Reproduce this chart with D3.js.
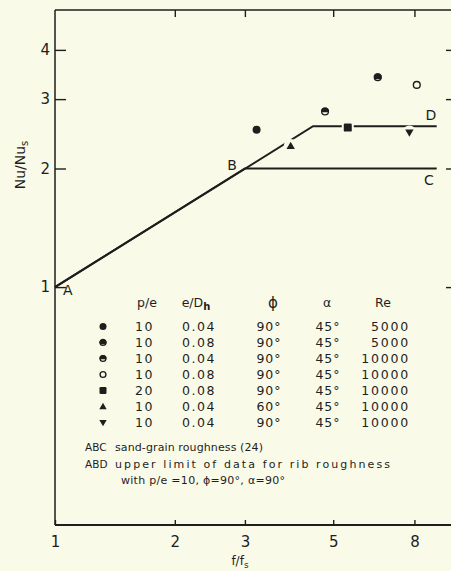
<!DOCTYPE html>
<html>
<head>
<meta charset="utf-8">
<script src="https://cdn.jsdelivr.net/npm/d3@7"></script>
<style>
  html, body { margin: 0; padding: 0; background: #fafae8; }
  svg { display: block; }
  text { font-family: "DejaVu Sans", sans-serif; fill: #1e1e1e; }
</style>
</head>
<body>
<svg id="chart" width="451" height="571"></svg>
<script>
// ---------- data ----------
const markerTypes = ["filled", "halfA", "halfB", "open", "square", "triUp", "triDown"];
const pe    = ["10", "10", "10", "10", "20", "10", "10"];
const eDh   = ["0.04", "0.08", "0.04", "0.08", "0.08", "0.04", "0.04"];
const phi   = ["90°", "90°", "90°", "90°", "90°", "60°", "90°"];
const alpha = ["45°", "45°", "45°", "45°", "45°", "45°", "45°"];
const Re    = ["5000", "5000", "10000", "10000", "10000", "10000", "10000"];
// one measured point per series (f/fs, Nu/Nus)
const ptF   = [3.21, 6.47, 4.77, 8.11, 5.44, 3.91, 7.77];
const ptNu  = [2.51, 3.41, 2.79, 3.26, 2.54, 2.28, 2.47];
// reference lines
const abcF  = [1, 3, 9.1];
const abcNu = [1, 2, 2];
const abdF  = [1, 4.45, 9.1];
const abdNu = [1, 2.56, 2.56];
const xTicks = [1, 2, 3, 5, 8];
const yTicks = [1, 2, 3, 4];

// ---------- setup ----------
const bg = "#fafae8", ink = "#1e1e1e";
const svg = d3.select("#chart");
const L = 55, T = 10, R = 453, B = 525;
const x = d3.scaleLog().domain([1, 10]).range([L, R]);
const y = d3.scaleLog().domain([0.249, 5.05]).range([B, T]);

// frame
const frame = svg.append("g").attr("stroke", ink).attr("stroke-width", 1.5).attr("fill", "none");
frame.append("line").attr("x1", L).attr("x2", L).attr("y1", T).attr("y2", B);
frame.append("line").attr("x1", L).attr("x2", R).attr("y1", T).attr("y2", T);
frame.append("line").attr("x1", L).attr("x2", R).attr("y1", B).attr("y2", B).attr("stroke-width", 2);

// axes
function styleAxis(g) {
  g.select(".domain").remove();
  g.selectAll(".tick line").attr("stroke", ink).attr("stroke-width", 1.4);
  g.selectAll(".tick text").attr("fill", ink).style("font-size", "15px").style("font-family", "DejaVu Sans, sans-serif");
}
svg.append("g").attr("transform", `translate(${L},0)`)
  .call(d3.axisLeft(y).tickValues(yTicks).tickFormat(d3.format("d")).tickSize(-11).tickPadding(5))
  .call(styleAxis);
svg.append("g").attr("transform", `translate(${R},0)`)
  .call(d3.axisRight(y).tickValues(yTicks).tickFormat("").tickSize(-7))
  .call(styleAxis);
svg.append("g").attr("transform", `translate(0,${B})`)
  .call(d3.axisBottom(x).tickValues(xTicks).tickFormat(d3.format("d")).tickSize(-5).tickPadding(11))
  .call(styleAxis);
svg.append("g").attr("transform", `translate(0,${T})`)
  .call(d3.axisTop(x).tickValues(xTicks.slice(1)).tickFormat("").tickSize(-7))
  .call(styleAxis);

// axis titles
const yt = svg.append("text").attr("transform", "translate(25,165) rotate(-90)")
  .attr("text-anchor", "middle").style("font-size", "14px");
yt.append("tspan").text("Nu/Nu");
yt.append("tspan").attr("dy", 3).style("font-size", "10px").text("s");

const xt = svg.append("text").attr("x", 240).attr("y", 565).attr("text-anchor", "middle").style("font-size", "12px");
xt.append("tspan").text("f/f");
xt.append("tspan").attr("dy", 3).style("font-size", "9px").text("s");

// lines
const line = d3.line().x(d => x(d[0])).y(d => y(d[1]));
svg.append("path").datum(abcF.map((f, i) => [f, abcNu[i]]))
  .attr("d", line).attr("fill", "none").attr("stroke", ink).attr("stroke-width", 2);
svg.append("path").datum(abdF.map((f, i) => [f, abdNu[i]]))
  .attr("d", line).attr("fill", "none").attr("stroke", ink).attr("stroke-width", 2);

// line labels
const lbl = svg.append("g").style("font-size", "14px");
lbl.append("text").attr("x", x(1) + 8).attr("y", y(1) + 8).text("A");
lbl.append("text").attr("x", x(3) - 8).attr("y", y(2) + 2).attr("text-anchor", "end").text("B");
lbl.append("text").attr("x", x(8.7)).attr("y", y(2) + 17).attr("text-anchor", "middle").text("C");
lbl.append("text").attr("x", x(8.8)).attr("y", y(2.56) - 6).attr("text-anchor", "middle").text("D");

// markers
function marker(g, type, cx, cy, r, halo) {
  const m = g.append("g");
  const hw = halo ? 3 : 0;
  if (type === "square") {
    if (halo) m.append("rect").attr("x", cx - r - 2).attr("y", cy - r - 1).attr("width", 2 * r + 4).attr("height", 2 * r + 2).attr("fill", bg);
    m.append("rect").attr("x", cx - r).attr("y", cy - r).attr("width", 2 * r).attr("height", 2 * r).attr("rx", 1.2).attr("fill", ink);
  } else if (type === "triUp" || type === "triDown") {
    const s = type === "triUp" ? -1 : 1;
    const pts = [[cx, cy + s * r * 1.1], [cx - r * 1.05, cy - s * r * 0.75], [cx + r * 1.05, cy - s * r * 0.75]];
    if (halo) m.append("circle").attr("cx", cx).attr("cy", cy).attr("r", r + 3).attr("fill", bg);
    m.append("path").attr("d", "M" + pts.map(p => p.join(",")).join("L") + "Z").attr("fill", ink);
  } else {
    if (halo) m.append("circle").attr("cx", cx).attr("cy", cy).attr("r", r + hw).attr("fill", bg);
    if (type === "filled") {
      m.append("circle").attr("cx", cx).attr("cy", cy).attr("r", r).attr("fill", ink);
    } else if (type === "open") {
      m.append("circle").attr("cx", cx).attr("cy", cy).attr("r", r - 0.6).attr("fill", bg).attr("stroke", ink).attr("stroke-width", 1.4);
    } else {
      const f = type === "halfA" ? 0.75 : 0.6;
      m.append("circle").attr("cx", cx).attr("cy", cy).attr("r", r - 0.6).attr("fill", bg).attr("stroke", ink).attr("stroke-width", 1.3);
      const yc = cy - r + 2 * r * f;
      const w = Math.sqrt(Math.max(0, r * r - (yc - cy) * (yc - cy)));
      m.append("path").attr("d", `M${cx - w},${yc}A${r},${r} 0 ${f > 0.5 ? 1 : 0} 1 ${cx + w},${yc}Z`).attr("fill", ink);
    }
  }
}
const pts = svg.append("g");
markerTypes.forEach((t, i) => marker(pts, t, x(ptF[i]), y(ptNu[i]), 4, true));

// legend table
const lg = svg.append("g").style("font-size", "12.5px");
const hy = 307;
lg.append("text").attr("x", 147).attr("y", hy).attr("text-anchor", "middle").text("p/e");
const eh = lg.append("text").attr("x", 196).attr("y", hy).attr("text-anchor", "middle");
eh.append("tspan").text("e/D");
eh.append("tspan").attr("dy", 3).style("font-size", "10px").style("font-weight", "bold").text("h");
lg.append("text").attr("x", 273).attr("y", hy + 1).attr("text-anchor", "middle").style("font-size", "15px").text("ϕ");
lg.append("text").attr("x", 327).attr("y", hy).attr("text-anchor", "middle").text("α");
lg.append("text").attr("x", 383).attr("y", hy).attr("text-anchor", "middle").text("Re");

const rowY = i => 331 + i * 16;
markerTypes.forEach((t, i) => {
  const ry = rowY(i);
  marker(lg, t, 103, ry - 4.5, 3.5, false);
  lg.append("text").attr("x", 154).attr("y", ry).attr("text-anchor", "end").style("letter-spacing", "1.5px").text(pe[i]);
  lg.append("text").attr("x", 182).attr("y", ry).style("letter-spacing", "1.5px").text(eDh[i]);
  lg.append("text").attr("x", 269).attr("y", ry).attr("text-anchor", "middle").style("letter-spacing", "1px").text(phi[i]);
  lg.append("text").attr("x", 328).attr("y", ry).attr("text-anchor", "middle").style("letter-spacing", "1px").text(alpha[i]);
  lg.append("text").attr("x", 410).attr("y", ry).attr("text-anchor", "end").style("letter-spacing", "1.8px").text(Re[i]);
});

const nt = svg.append("g").style("font-size", "11px");
nt.append("text").attr("x", 85).attr("y", 451).style("font-size", "10.5px").text("ABC");
nt.append("text").attr("x", 115).attr("y", 451).attr("textLength", 148).attr("lengthAdjust", "spacing").text("sand-grain roughness (24)");
nt.append("text").attr("x", 85).attr("y", 468).style("font-size", "10.5px").text("ABD");
nt.append("text").attr("x", 115).attr("y", 468).attr("textLength", 275).attr("lengthAdjust", "spacing").text("upper limit of data for rib roughness");
nt.append("text").attr("x", 121).attr("y", 484).attr("textLength", 164).attr("lengthAdjust", "spacing").text("with p/e =10, ϕ=90°, α=90°");
</script>
</body>
</html>
